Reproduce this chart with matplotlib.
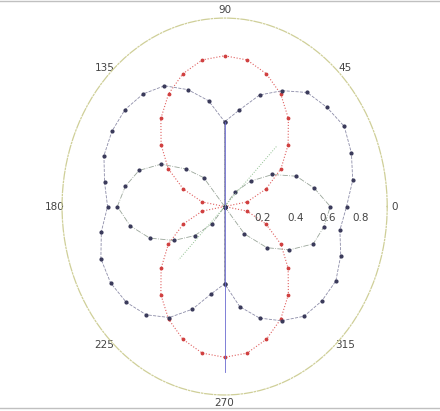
import numpy as np
import matplotlib
matplotlib.use('Agg')
import matplotlib.pyplot as plt
from matplotlib.lines import Line2D

# red series: two round petals along 90 / 270 (sampled every 10 deg)
red_theta = np.arange(0, 361, 10)
red_r = [0.00, 0.14, 0.27, 0.40, 0.51, 0.61, 0.69, 0.75, 0.79, 0.80,
         0.79, 0.75, 0.69, 0.61, 0.51, 0.40, 0.27, 0.14, 0.00,
         0.14, 0.27, 0.40, 0.51, 0.61, 0.69, 0.75, 0.79, 0.80,
         0.79, 0.75, 0.69, 0.61, 0.51, 0.40, 0.27, 0.14, 0.00]

# big dark lobes (right and left), 10 deg steps
right_theta = [-96, -90, -80, -70, -60, -50, -40, -30, -20, -10, 0,
               10, 20, 30, 40, 50, 60, 70, 80, 90, 96]
right_r = [0.00, 0.41, 0.54, 0.63, 0.70, 0.76, 0.78, 0.79, 0.76, 0.72, 0.75,
           0.80, 0.83, 0.85, 0.82, 0.79, 0.71, 0.63, 0.52, 0.45, 0.00]
left_theta = [84, 90, 100, 110, 120, 130, 140, 150, 160, 170, 180,
              190, 200, 210, 220, 230, 240, 250, 260, 270, 276]
left_r = [0.00, 0.45, 0.57, 0.66, 0.74, 0.78, 0.80, 0.80, 0.79, 0.75, 0.72,
          0.77, 0.81, 0.81, 0.79, 0.75, 0.68, 0.58, 0.47, 0.41, 0.00]

# small dark petals around 0 and 180
mid_r_theta = [-57, -50, -40, -30, -20, -10, 0, 10, 20, 30, 40, 50, 57]
mid_r_r = [0.00, 0.19, 0.34, 0.46, 0.58, 0.62, 0.65, 0.56, 0.47, 0.34, 0.21, 0.10, 0.00]
mid_l_theta = [123, 130, 140, 150, 160, 170, 180, 190, 200, 210, 220, 230, 237]
mid_l_r = [0.00, 0.20, 0.31, 0.45, 0.56, 0.62, 0.66, 0.59, 0.49, 0.36, 0.24, 0.12, 0.00]

# straight blue line along the vertical, green spokes
blue_theta = [90, 90, 270, 270]
blue_r = [0.45, 0.0, 0.0, 0.88]
green_theta = [45, 45, 225, 225]
green_r = [0.45, 0.0, 0.0, 0.40]

theta_ticks = [0, 45, 90, 135, 180, 225, 270, 315]
r_ticks = [0.2, 0.4, 0.6, 0.8]

fig = plt.figure(figsize=(4.4, 4.11), dpi=100)
ax = fig.add_axes([0.141, 0.039, 0.739, 0.917], projection='polar')
ax.set_aspect('auto')

dark = '#3a3a5a'
ax.plot(np.radians(red_theta), red_r, ':', color='#e06060', lw=0.8,
        marker='.', ms=3.5, mfc='#d04040', mec='#d04040')
for th, rr in [(right_theta, right_r), (left_theta, left_r)]:
    ax.plot(np.radians(th), rr, '--', color='#8c8ca8', lw=0.6,
            marker='.', ms=4, mfc=dark, mec=dark)
for th, rr in [(mid_r_theta, mid_r_r), (mid_l_theta, mid_l_r)]:
    ax.plot(np.radians(th), rr, '-.', color='#9aa69a', lw=0.6,
            marker='.', ms=4, mfc=dark, mec=dark)
ax.plot(np.radians(blue_theta), blue_r, '-', color='#6a6ad0', lw=0.6)
ax.plot(np.radians(green_theta), green_r, ':', color='#90c090', lw=0.7)

ax.set_ylim(0, 1)
ax.grid(False)
ax.set_thetagrids(theta_ticks, [str(t) for t in theta_ticks])
ax.tick_params(axis='x', pad=-5, labelsize=7.5, colors='#444444')
ax.set_yticks([])
for r in r_ticks:
    ax.annotate(str(r), xy=(0, r), xytext=(4, -8), textcoords='offset points',
                ha='center', va='center', fontsize=7.5, color='#444444')
ax.spines['polar'].set_color('#cfcf98')
ax.spines['polar'].set_linestyle('-.')
ax.spines['polar'].set_linewidth(0.9)

fig.add_artist(Line2D([0, 1], [0.998, 0.998], color='#c0c0c0', lw=1))
fig.add_artist(Line2D([0, 1], [0.008, 0.008], color='#c0c0c0', lw=1))

fig.savefig('out.png', dpi=100)
